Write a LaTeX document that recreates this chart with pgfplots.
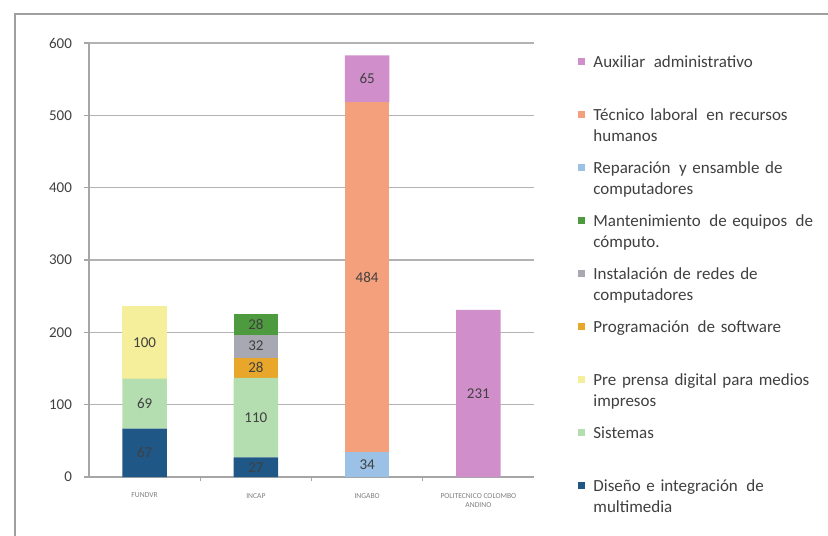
\documentclass[border=0pt]{standalone}
\usepackage{pgfplots}
\pgfplotsset{compat=1.18}
\usepackage{pgfplotstable}
\usepackage{fontspec}
\setmainfont{Carlito}
\definecolor{cDis}{HTML}{1F5786}
\definecolor{cSis}{HTML}{B4DDB0}
\definecolor{cPre}{HTML}{F5EE9A}
\definecolor{cPro}{HTML}{E8A62A}
\definecolor{cIns}{HTML}{A8A8B2}
\definecolor{cMan}{HTML}{4E9A3E}
\definecolor{cRep}{HTML}{9BC1E6}
\definecolor{cTec}{HTML}{F4A07C}
\definecolor{cAux}{HTML}{D08FCB}
\definecolor{txt}{HTML}{404040}

\pgfplotstableread{
x y
0 67
1 27
2 0
3 0
}\tDis
\pgfplotstableread{
x y
0 69
1 110
2 0
3 0
}\tSis
\pgfplotstableread{
x y
0 100
1 0
2 0
3 0
}\tPre
\pgfplotstableread{
x y
0 0
1 28
2 0
3 0
}\tPro
\pgfplotstableread{
x y
0 0
1 32
2 0
3 0
}\tIns
\pgfplotstableread{
x y
0 0
1 28
2 0
3 0
}\tMan
\pgfplotstableread{
x y
0 0
1 0
2 34
3 0
}\tRep
\pgfplotstableread{
x y
0 0
1 0
2 484
3 0
}\tTec
\pgfplotstableread{
x y
0 0
1 0
2 65
3 231
}\tAux

\begin{document}
\begin{tikzpicture}
\begin{axis}[
  at={(44.5pt,29pt)}, anchor=south west,
  scale only axis, width=222.5pt, height=217pt,
  ybar stacked, bar width=0.4,
  xmin=-0.5, xmax=3.5, ymin=0, ymax=600,
  xtick={0,1,2,3},
  xticklabels={FUNDVR,INCAP,INGABO,{POLITECNICO COLOMBO\\ANDINO}},
  minor xtick={0.5,1.5,2.5},
  ytick={0,100,...,600},
  axis x line*=bottom, axis y line*=left,
  axis line style={gray!70, line width=0.8pt},
  ymajorgrids, grid style={gray!60, line width=0.7pt},
  tick align=outside,
  major tick length=2.5pt, minor tick length=2pt,
  major x tick style={draw=none},
  minor x tick style={gray!70, line width=0.5pt},
  major y tick style={gray!70, line width=0.6pt},
  /pgf/number format/assume math mode=true,
  yticklabel style={font=\fontsize{7.5}{8}\selectfont, text=txt, xshift=-2.5pt},
  xticklabel style={font=\fontsize{3.8}{4.5}\selectfont, text=gray, align=center, yshift=-2pt},
  point meta=explicit,
  nodes near coords={\pgfmathfloatifflags{\pgfplotspointmeta}{0}{}{\pgfmathprintnumber{\pgfplotspointmeta}}},
  every node near coord/.append style={font=\fontsize{7.5}{8}\selectfont, text=black!75, anchor=center},
  reverse legend,
  legend image code/.code={\fill[#1] (0pt,7.25pt) rectangle (3.5pt,10.75pt);},
  legend cell align=left,
  legend style={at={(1.0989,0.977)}, anchor=north west, draw=none, inner sep=0pt,
    row sep=0pt, column sep=4pt,
    nodes={inner sep=0pt, text width=125pt, text height=7pt, text depth=19.5pt,
      font=\fontsize{8.5}{10.5}\selectfont, text=txt}},
]
\addplot[fill=cDis, draw=none] table[x=x,y=y,meta=y] {\tDis};
\addlegendentry{Diseño e integración\, de\\multimedia}
\addplot[fill=cSis, draw=none] table[x=x,y=y,meta=y] {\tSis};
\addlegendentry{Sistemas}
\addplot[fill=cPre, draw=none] table[x=x,y=y,meta=y] {\tPre};
\addlegendentry{Pre prensa digital para medios\\impresos}
\addplot[fill=cPro, draw=none] table[x=x,y=y,meta=y] {\tPro};
\addlegendentry{Programación\, de software}
\addplot[fill=cIns, draw=none] table[x=x,y=y,meta=y] {\tIns};
\addlegendentry{Instalación de redes de\\computadores}
\addplot[fill=cMan, draw=none] table[x=x,y=y,meta=y] {\tMan};
\addlegendentry{Mantenimiento\, de equipos\, de\\cómputo.}
\addplot[fill=cRep, draw=none] table[x=x,y=y,meta=y] {\tRep};
\addlegendentry{Reparación\, y ensamble de\\computadores}
\addplot[fill=cTec, draw=none] table[x=x,y=y,meta=y] {\tTec};
\addlegendentry{Técnico laboral\, en recursos\\humanos}
\addplot[fill=cAux, draw=none] table[x=x,y=y,meta=y] {\tAux};
\addlegendentry{Auxiliar\, administrativo}
\end{axis}
\pgfresetboundingbox
\useasboundingbox (0,0) rectangle (414pt,267.5pt);
\draw[gray!75, line width=1pt] (7.5pt,-20pt) rectangle (440pt,260.5pt);
\end{tikzpicture}
\end{document}
